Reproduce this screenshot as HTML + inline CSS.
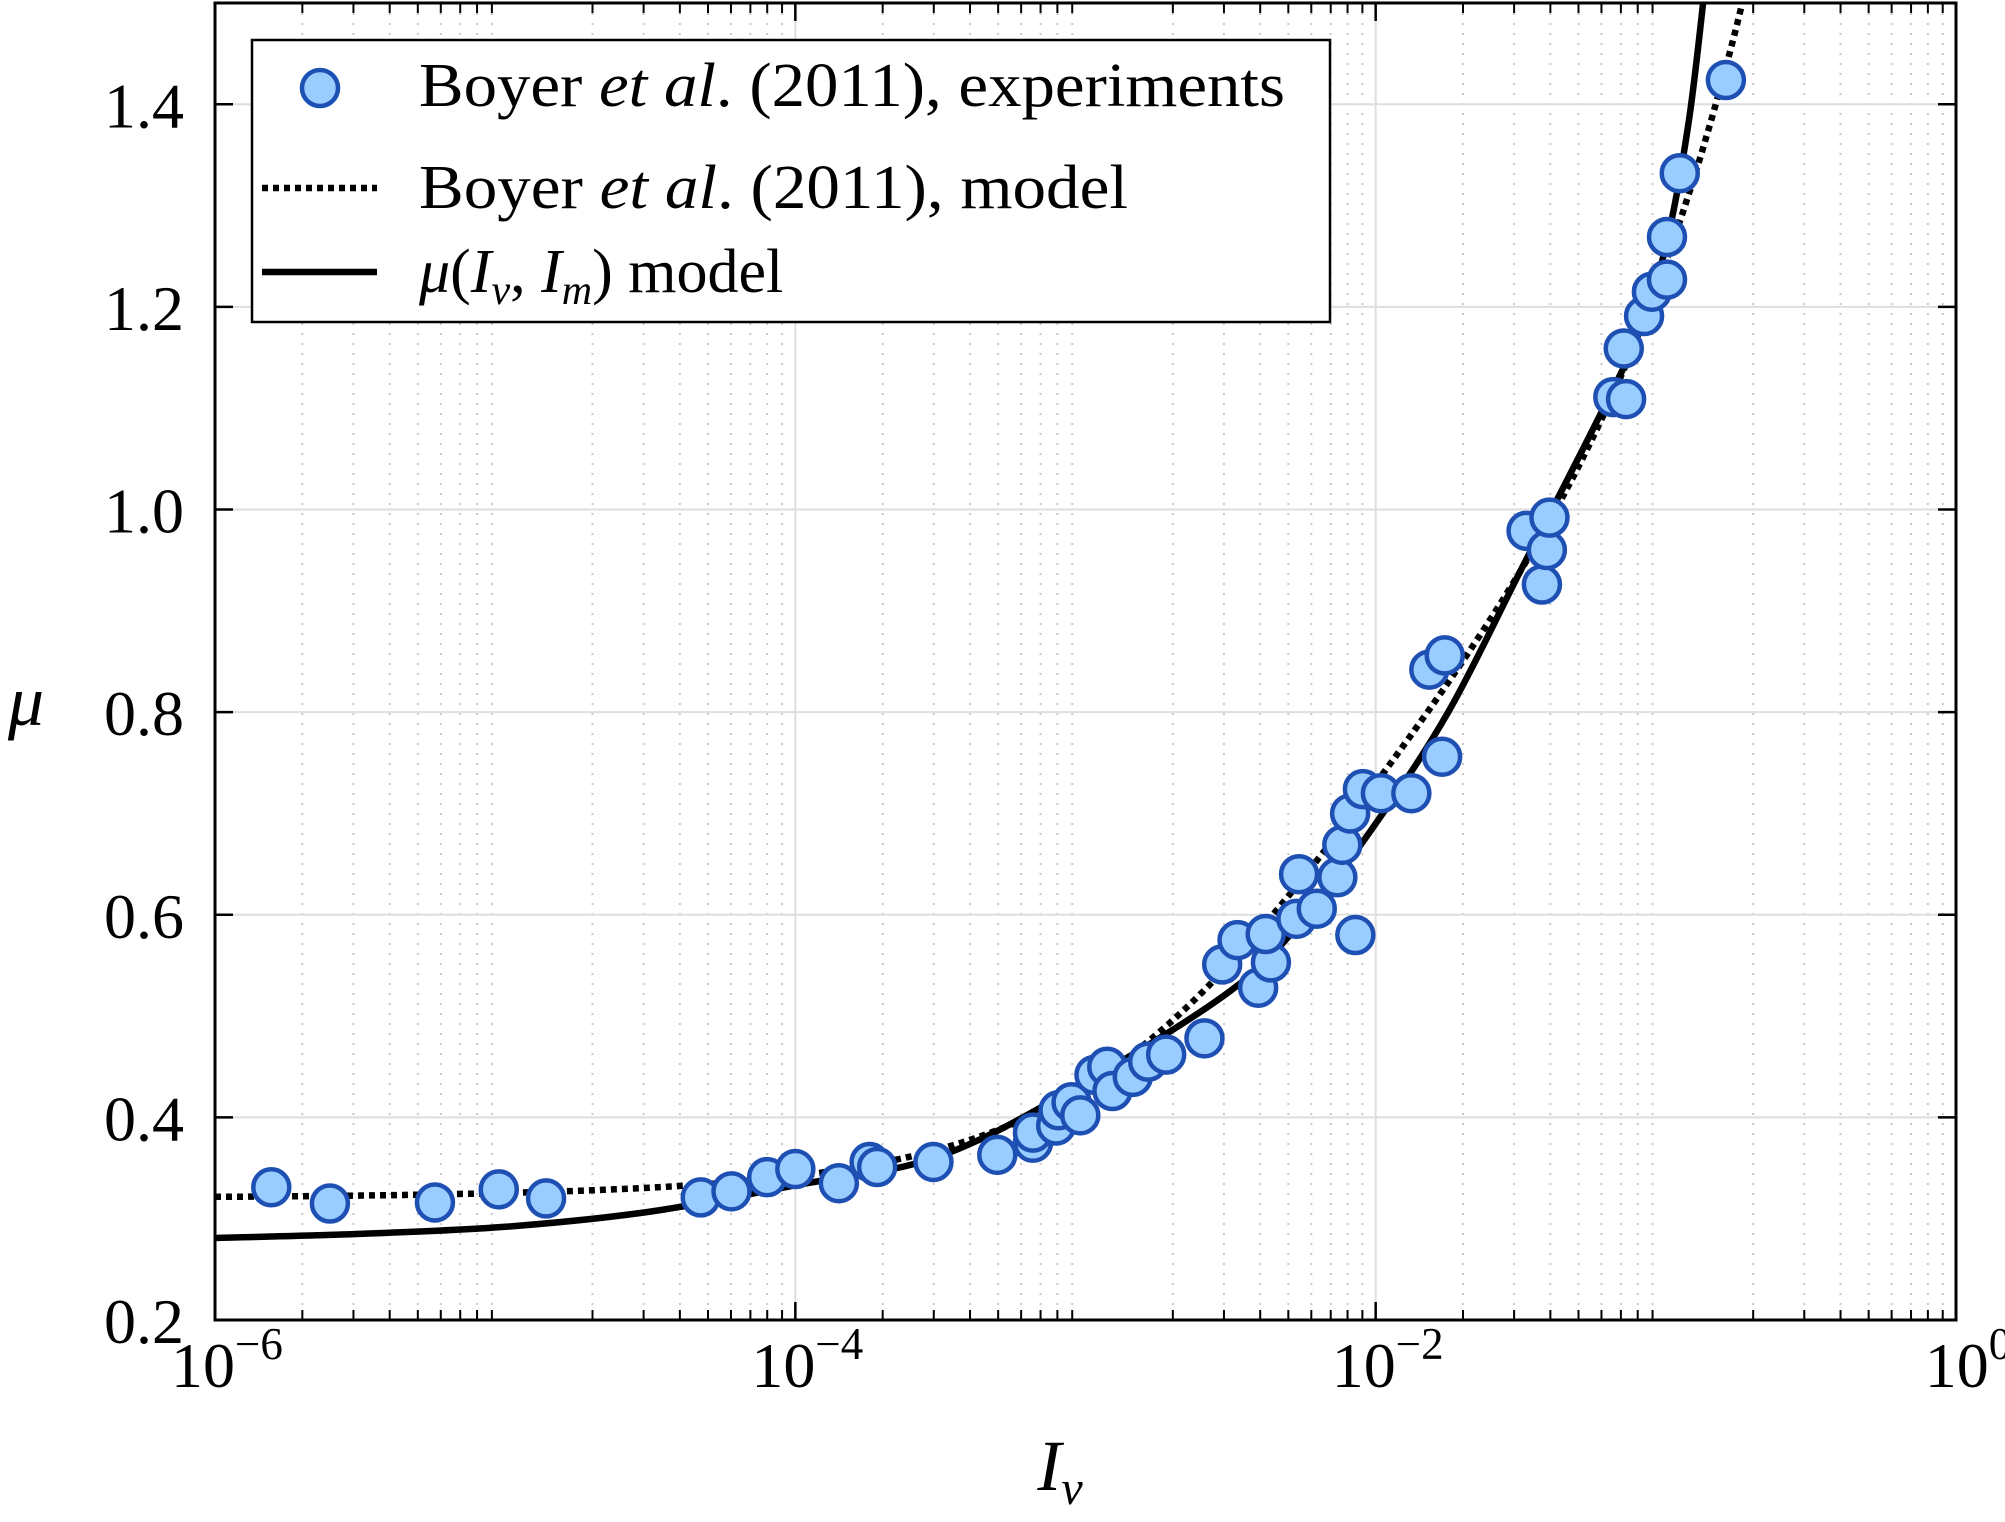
<!DOCTYPE html>
<html><head><meta charset="utf-8"><style>
html,body{margin:0;padding:0;background:#fff}
svg{display:block;font-family:"Liberation Serif",serif}
</style></head><body>
<svg id="chart" width="2005" height="1522" viewBox="0 0 2005 1522" xmlns="http://www.w3.org/2000/svg">
<g id="grid"></g>
<g id="series"></g>
<g id="axes"></g>
<g id="legend">
  <rect x="252" y="40" width="1078" height="282" fill="#fff" stroke="#000" stroke-width="2.5"/>
  <circle cx="320" cy="88" r="18" fill="#99ccff" stroke="#1e50b4" stroke-width="4.5"/>
  <line x1="262" y1="188" x2="377" y2="188" stroke="#000" stroke-width="6.5" stroke-dasharray="6,5"/>
  <line x1="262" y1="272" x2="377" y2="272" stroke="#000" stroke-width="6.5"/>
  <text x="419" y="106" font-size="62" textLength="866" lengthAdjust="spacingAndGlyphs">Boyer <tspan font-style="italic">et al</tspan>. (2011), experiments</text>
  <text x="419" y="208" font-size="62" textLength="709" lengthAdjust="spacingAndGlyphs">Boyer <tspan font-style="italic">et al</tspan>. (2011), model</text>
  <text x="419" y="292" font-size="62"><tspan font-style="italic">μ</tspan>(<tspan font-style="italic">I</tspan><tspan font-style="italic" font-size="42" dy="12">v</tspan><tspan dy="-12">, </tspan><tspan font-style="italic">I</tspan><tspan font-style="italic" font-size="42" dy="12">m</tspan><tspan dy="-12">) model</tspan></text>
</g>
<text x="26" y="725" font-size="72" font-style="italic" text-anchor="middle">μ</text>
<text x="1060" y="1490" font-size="72" font-style="italic" text-anchor="middle">I<tspan font-size="48" dy="14">v</tspan></text>
</svg>
<script>
// Experimental data (log10 Iv, mu)
const expLogI = [-5.806,-5.604,-5.242,-5.022,-4.859,-4.326,-4.220,-4.097,-4.000,-3.850,-3.744,-3.718,-3.524,-3.304,-3.181,-3.181,-3.101,-3.093,-3.048,-3.018,-2.969,-2.925,-2.907,-2.837,-2.784,-2.722,-2.590,-2.529,-2.476,-2.405,-2.361,-2.379,-2.273,-2.264,-2.203,-2.132,-2.115,-2.088,-2.070,-2.044,-1.982,-1.877,-1.815,-1.762,-1.771,-1.480,-1.427,-1.410,-1.401,-1.181,-1.145,-1.137,-1.075,-1.048,-0.996,-0.996,-0.952,-0.793];
const expMu = [0.331,0.315,0.316,0.329,0.320,0.321,0.327,0.341,0.349,0.335,0.356,0.351,0.356,0.363,0.375,0.385,0.392,0.407,0.415,0.402,0.442,0.450,0.426,0.440,0.455,0.462,0.478,0.551,0.575,0.528,0.553,0.581,0.596,0.640,0.606,0.637,0.669,0.700,0.580,0.724,0.720,0.720,0.842,0.856,0.756,0.979,0.926,0.960,0.992,1.111,1.159,1.109,1.191,1.215,1.227,1.269,1.332,1.424];
// mu(Iv,Im) model curve (log10 Iv, mu)
const modelLogI = [-6,-5.5,-5,-4.5,-4,-3.5,-3,-2.5,-2.25,-2,-1.75,-1.5,-1.25,-1.1,-1.0,-0.92,-0.86];
const modelMu = [0.281,0.285,0.292,0.307,0.333,0.362,0.435,0.525,0.595,0.69,0.80,0.94,1.08,1.17,1.26,1.385,1.53];
// Boyer et al. (2011) model parameters
const boyerParams = [0.32, 0.7, 0.005, 0.585]; // mu1, mu2, I0, phim
const yTicks = [0.2,0.4,0.6,0.8,1.0,1.2,1.4];
const yTickLabels = ["0.2","0.4","0.6","0.8","1.0","1.2","1.4"];
const xDecades = [-6,-4,-2,0];
const xTickLabels = ["10","10","10","10"];
const xTickExps = ["−6","−4","−2","0"];

const NS="http://www.w3.org/2000/svg";
const L=215,R=1956,T=3,B=1320,XMIN=-6,XMAX=0,YMIN=0.2,YMAX=1.5;
const sx=v=>L+(v-XMIN)/(XMAX-XMIN)*(R-L);
const sy=v=>B-(v-YMIN)/(YMAX-YMIN)*(B-T);
function mk(tag,attrs,parent){const e=document.createElementNS(NS,tag);for(const k in attrs)e.setAttribute(k,attrs[k]);parent.appendChild(e);return e;}
const grid=document.getElementById('grid'),axes=document.getElementById('axes'),series=document.getElementById('series');

for(let d=-6;d<0;d++){for(let m=2;m<=9;m++){const x=sx(d+Math.log10(m));
  const g=mk('line',{x1:x,y1:T,x2:x,y2:B,stroke:'#c8c8c8','stroke-width':2,'stroke-dasharray':'2,8'},grid);
  
  const t1=mk('line',{x1:x,y1:B,x2:x,y2:B-10,stroke:'#000','stroke-width':2},axes);
  
  const t2=mk('line',{x1:x,y1:T,x2:x,y2:T+10,stroke:'#000','stroke-width':2},axes);
  
}}
for(const d of xDecades){const x=sx(d);
  const g=mk('line',{x1:x,y1:T,x2:x,y2:B,stroke:'#dedede','stroke-width':2},grid);
  
  const t1=mk('line',{x1:x,y1:B,x2:x,y2:B-18,stroke:'#000','stroke-width':2.5},axes);
  
  const t2=mk('line',{x1:x,y1:T,x2:x,y2:T+18,stroke:'#000','stroke-width':2.5},axes);
  
}
xDecades.forEach((d,i)=>{
  const t=mk('text',{x:sx(d)+12,y:1387,'font-size':64,'text-anchor':'middle'},axes);
  
  t.textContent=xTickLabels[i];
  const s=mk('tspan',{'font-size':45,dy:-28},t);s.textContent=xTickExps[i];
});
yTicks.forEach((v,i)=>{const y=sy(v);
  const g=mk('line',{x1:L,y1:y,x2:R,y2:y,stroke:'#dedede','stroke-width':2},grid);
  
  const t1=mk('line',{x1:L,y1:y,x2:L+18,y2:y,stroke:'#000','stroke-width':2.5},axes);
  
  const t2=mk('line',{x1:R,y1:y,x2:R-18,y2:y,stroke:'#000','stroke-width':2.5},axes);
  
  const t=mk('text',{x:184,y:y+23,'font-size':64,'text-anchor':'end'},axes);
  
  t.textContent=yTickLabels[i];
});
const frame=mk('rect',{x:L,y:T,width:R-L,height:B-T,fill:'none',stroke:'#000','stroke-width':3},axes);


const defs=mk('defs',{},series);const cp=mk('clipPath',{id:'clip'},defs);mk('rect',{x:L,y:T,width:R-L,height:B-T},cp);

const [m1,m2,I0,phim]=boyerParams;
let dpts=[];for(let k=0;k<=400;k++){const lg=-6+k*(5.3/400);const I=Math.pow(10,lg);
  const mu=m1+(m2-m1)/(1+I0/I)+I+2.5*phim*Math.sqrt(I);dpts.push(sx(lg).toFixed(1)+','+sy(mu).toFixed(1));}
const dl=mk('polyline',{points:dpts.join(' '),fill:'none',stroke:'#000','stroke-width':6.5,'stroke-dasharray':'6,5','clip-path':'url(#clip)'},series);


const P=modelLogI.map((v,i)=>[sx(v),sy(modelMu[i])]);
let d='M'+P[0][0]+','+P[0][1];
for(let i=0;i<P.length-1;i++){const p0=P[Math.max(0,i-1)],p1=P[i],p2=P[i+1],p3=P[Math.min(P.length-1,i+2)];
  d+=' C'+(p1[0]+(p2[0]-p0[0])/6)+','+(p1[1]+(p2[1]-p0[1])/6)+' '+(p2[0]-(p3[0]-p1[0])/6)+','+(p2[1]-(p3[1]-p1[1])/6)+' '+p2[0]+','+p2[1];}
const sl=mk('path',{d:d,fill:'none',stroke:'#000','stroke-width':6.5,'clip-path':'url(#clip)'},series);


expLogI.forEach((v,i)=>{
  const c=mk('circle',{cx:sx(v),cy:sy(expMu[i]),r:18,fill:'#99ccff',stroke:'#1e50b4','stroke-width':4.5},series);
  
});
</script>
</body></html>
